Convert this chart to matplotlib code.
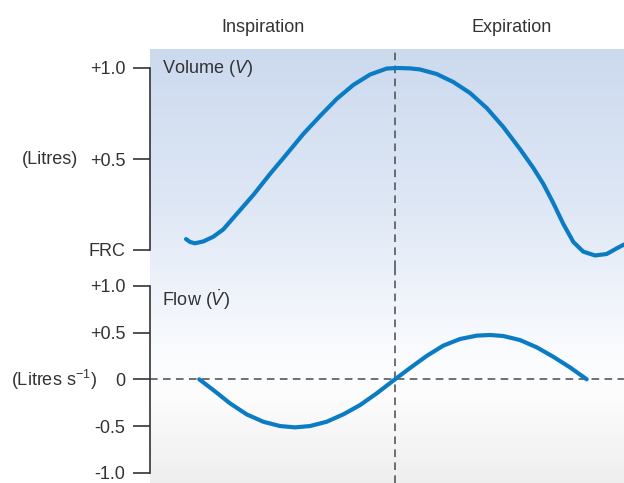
import matplotlib
matplotlib.use("Agg")
import matplotlib.pyplot as plt
import numpy as np
from matplotlib import font_manager as fm

# ---------------- data ----------------
# time in s (end of inspiration at 2.0 s)
vol_t = [0.294, 0.327, 0.367, 0.435, 0.517, 0.598, 0.708, 0.843, 0.980, 1.116,
         1.251, 1.388, 1.524, 1.660, 1.796, 1.932, 2.020, 2.122, 2.204, 2.340,
         2.476, 2.612, 2.749, 2.884, 3.020, 3.129, 3.211, 3.292, 3.374, 3.456,
         3.537, 3.633, 3.728, 3.810, 3.869]
vol_v = [0.060, 0.044, 0.037, 0.047, 0.073, 0.113, 0.198, 0.302, 0.418, 0.527,
         0.637, 0.736, 0.830, 0.907, 0.964, 0.997, 1.000, 0.998, 0.992, 0.967,
         0.923, 0.863, 0.780, 0.676, 0.555, 0.451, 0.363, 0.258, 0.143, 0.044,
         -0.009, -0.030, -0.022, 0.009, 0.030]

flow_t = [0.402, 0.517, 0.653, 0.789, 0.925, 1.061, 1.184, 1.306, 1.442, 1.578,
          1.714, 1.851, 2.000, 2.122, 2.259, 2.394, 2.531, 2.667, 2.776, 2.884,
          3.020, 3.157, 3.292, 3.429, 3.565]
flow_f = [0.000, -0.115, -0.257, -0.375, -0.454, -0.500, -0.514, -0.500, -0.454, -0.375,
          -0.276, -0.150, 0.000, 0.120, 0.250, 0.360, 0.431, 0.467, 0.474, 0.463,
          0.420, 0.342, 0.241, 0.127, 0.000]

vol_ticks = [0.0, 0.5, 1.0]
vol_ticklabels = ["FRC", "+0.5", "+1.0"]
flow_ticks = [-1.0, -0.5, 0.0, 0.5, 1.0]
flow_ticklabels = ["-1.0", "-0.5", "0", "+0.5", "+1.0"]
phase_labels = ["Inspiration", "Expiration"]
phase_split = 2.0

# ---------------- style ----------------
names = {f.name for f in fm.fontManager.ttflist}
FONT = "Liberation Sans Narrow" if "Liberation Sans Narrow" in names else "Liberation Sans"
plt.rcParams["font.family"] = [FONT, "DejaVu Sans"]
plt.rcParams["mathtext.fontset"] = "custom"
plt.rcParams["mathtext.rm"] = FONT
plt.rcParams["mathtext.it"] = FONT + ":italic"
FS = 13
TXT = "#333333"
BLUE = "#0b7cc4"
DASH = "#4a4a4a"

W, H = 624, 483
fig = plt.figure(figsize=(W / 100, H / 100), dpi=100)

def fx(px):
    return px / W

def fy(py):
    return 1 - py / H

# background gradient
bg = fig.add_axes([fx(150), 0, fx(624) - fx(150), fy(49)])
stops_y = [0.0, 0.35, 0.72, 0.80, 1.0]
stops_c = [(0.80, 0.855, 0.935), (0.87, 0.905, 0.960), (0.985, 0.99, 1.0),
           (0.99, 0.99, 0.99), (0.935, 0.935, 0.935)]
ys = np.linspace(0, 1, 400)
grad = np.stack([np.interp(ys, stops_y, [c[i] for c in stops_c]) for i in range(3)], axis=-1)
bg.imshow(grad[:, None, :], aspect="auto", extent=[0, 1, 1, 0])
bg.set_axis_off()
bg.set_zorder(0)

# x range
t0, t1 = 0.0, 474 / 122.5

def setup(ax, lo, hi, ticks, labels):
    ax.set_xlim(t0, t1)
    ax.patch.set_alpha(0)
    for s in ["top", "right", "bottom"]:
        ax.spines[s].set_visible(False)
    ax.spines["left"].set_bounds(lo, hi)
    ax.spines["left"].set_color(TXT)
    ax.spines["left"].set_linewidth(1.2)
    ax.set_yticks(ticks)
    ax.set_yticklabels(labels)
    ax.tick_params(axis="y", direction="out", length=12.2, width=1.2, color=TXT,
                   pad=5.5, labelsize=FS, labelcolor=TXT)
    ax.set_xticks([])

# upper (volume) axes: pixel rows 49..268
ax1 = fig.add_axes([fx(150), fy(268), fx(624) - fx(150), fy(49) - fy(268)])
ax1.set_ylim((250 - 268) / 182, (250 - 49) / 182)
setup(ax1, 0.0, 1.0, vol_ticks, vol_ticklabels)
ax1.plot(vol_t, vol_v, color=BLUE, lw=3.0, solid_capstyle="round", solid_joinstyle="round",
         clip_on=False, zorder=3)
ax1.axvline(phase_split, color=DASH, lw=1.1, ls=(0, (5, 3.5)), zorder=2)
ax1.text(0.025, 0.91, "Volume ($V$)", transform=ax1.transAxes, fontsize=FS, color=TXT,
         ha="left", va="center")

# lower (flow) axes: pixel rows 268..483
ax2 = fig.add_axes([fx(150), 0, fx(624) - fx(150), fy(268)])
ax2.set_ylim((379.3 - 483) / 93.5, (379.3 - 268) / 93.5)
setup(ax2, -1.0, 1.0, flow_ticks, flow_ticklabels)
ax2.plot(flow_t, flow_f, color=BLUE, lw=3.0, solid_capstyle="round", solid_joinstyle="round",
         zorder=3)
ax2.axvline(phase_split, color=DASH, lw=1.1, ls=(0, (5, 3.5)), zorder=2)
ax2.axhline(0.0, color=DASH, lw=1.1, ls=(0, (5, 3.5)), zorder=2)
ax2.text(0.025, 1.0 - (300 - 268) / 215, "Flow ($\\dot{V}$)", transform=ax2.transAxes,
         fontsize=FS, color=TXT, ha="left", va="center")

# left-side unit labels
fig.text(fx(78), fy(160), "(Litres)", fontsize=FS, color=TXT, ha="right", va="center")
fig.text(fx(97), fy(380), "(Litres s$^{-1}$)", fontsize=FS, color=TXT, ha="right", va="center")

# phase labels
fig.text(fx(263), fy(28), phase_labels[0], fontsize=FS, color=TXT, ha="center", va="center")
fig.text(fx(512), fy(28), phase_labels[1], fontsize=FS, color=TXT, ha="center", va="center")

fig.savefig("out.png", dpi=100)
